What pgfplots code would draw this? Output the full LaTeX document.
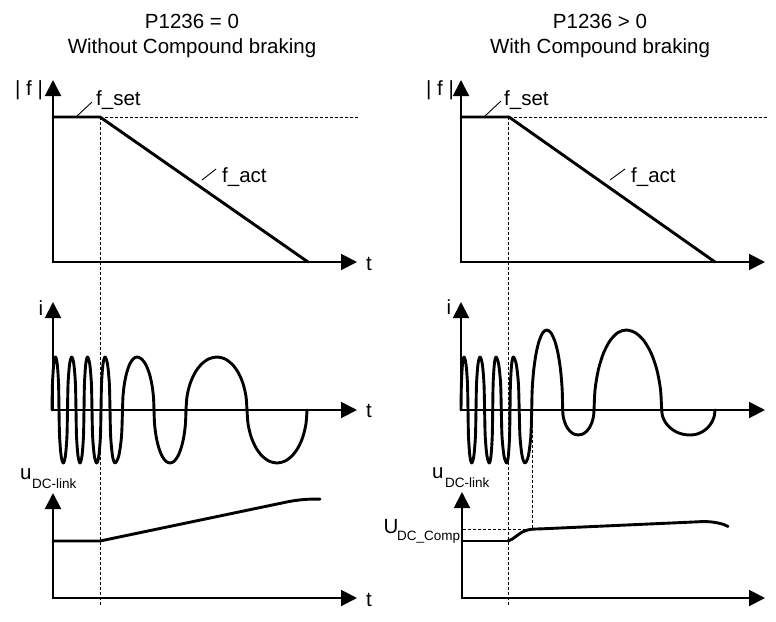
\documentclass[border=0pt]{standalone}
\usepackage{pgfplots}
\pgfplotsset{compat=1.18}
\usepackage{fontspec}
\setmainfont{Liberation Sans}
\usetikzlibrary{arrows.meta}
\newcommand{\bigf}{\fontsize{20.5}{24}\selectfont}
\newcommand{\subf}{\fontsize{13.5}{16}\selectfont}
\begin{document}
\begin{tikzpicture}[
  axisarrow/.style={line width=2pt, {Triangle[length=16pt,width=16pt]}-{Triangle[length=16pt,width=16pt]}},
  curve/.style={line width=2.9pt, line join=round, line cap=round},
  dashln/.style={line width=1pt, dash pattern=on 3pt off 2pt},
  lead/.style={line width=0.9pt},
  lbl/.style={inner sep=0pt, font=\bigf},
  slbl/.style={inner sep=0pt, font=\subf}
]
\begin{axis}[
  width=776pt, height=621pt, scale only axis,
  xmin=0, xmax=776, ymin=0, ymax=621, y dir=reverse,
  hide axis, clip=false
]
\addplot[draw=none] coordinates {(0,0) (776,621)};

% ---------- dashed guide lines ----------
\addplot[dashln] coordinates {(100,117) (358,117)};
\addplot[dashln] coordinates {(100,117) (100,606)};
\addplot[dashln] coordinates {(509,117) (767,117)};
\addplot[dashln] coordinates {(508.5,117) (508.5,606)};
\addplot[dashln] coordinates {(532,410) (532,529) (462,529)};

% ---------- axes ----------
\addplot[axisarrow] coordinates {(53,80) (53,262) (357,262)};
\addplot[axisarrow] coordinates {(461,80) (461,262) (765,262)};
\addplot[axisarrow] coordinates {(53,302) (53,410) (357,410)};
\addplot[axisarrow] coordinates {(461,302) (461,410) (765,410)};
\addplot[axisarrow] coordinates {(53,493) (53,598) (357,598)};
\addplot[axisarrow] coordinates {(462,492) (462,598) (765,598)};

% ---------- frequency ----------
\addplot[curve] coordinates {(53,117) (100,117) (308,262)};
\addplot[curve] coordinates {(461,117) (509,117) (715,262)};

% ---------- current, left ----------
\addplot[curve, smooth] coordinates {
 (52,410) (52.47,383.5) (53.75,364.1) (55.5,357) (57.25,364.1) (58.53,383.5)
 (59,410) (59.58,436.5) (61.15,455.9) (63.3,463) (65.4,455.9) (66.94,436.5)
 (67.5,410) (68.06,383.5) (69.6,364.1) (71.7,357) (73.85,364.1) (75.42,383.5)
 (76,410) (76.54,436.5) (78,455.9) (80,463) (82,455.9) (83.46,436.5)
 (84,410) (84.47,383.5) (85.75,364.1) (87.5,357) (89.75,364.1) (91.4,383.5)
 (92,410) (92.63,436.5) (94.35,455.9) (96.7,463) (98.85,455.9) (100.42,436.5)
 (101,410) (101.54,383.5) (103,364.1) (105,357) (107.5,364.1) (109.33,383.5)
 (110,410) (110.67,436.5) (112.5,455.9) (115,463) (118.75,455.9) (121.5,436.5)
 (122.5,410) (122.99,396.3) (124.44,383.5) (126.75,372.5) (129.75,364.1) (133.24,358.8) (137,357)
   (141.4,358.8) (145.5,364.1) (149.02,372.5) (151.72,383.5) (153.42,396.3)
 (154,410) (154.54,423.7) (156.14,436.5) (158.69,447.5) (162,455.9) (165.86,461.2) (170,463)
   (174.14,461.2) (178,455.9) (181.31,447.5) (183.86,436.5) (185.46,423.7)
 (186,410) (187.05,396.3) (190.15,383.5) (195.08,372.5) (201.5,364.1) (208.97,358.8) (217,357)
   (224.77,358.8) (232,364.1) (238.21,372.5) (242.98,383.5) (245.98,396.3)
 (247,410) (248.02,423.7) (251.02,436.5) (255.79,447.5) (262,455.9) (269.23,461.2) (277,463)
   (284.77,461.2) (292,455.9) (298.21,447.5) (302.98,436.5) (305.98,423.7)
 (307,410)
};

% ---------- current, right ----------
\addplot[curve, smooth] coordinates {
 (461,410) (461.4,383.5) (462.5,364.1) (464,357) (466,364.1) (467.46,383.5)
 (468,410) (468.5,436.5) (469.85,455.9) (471.7,463) (473.85,455.9) (475.42,436.5)
 (476,410) (476.54,383.5) (478,364.1) (480,357) (482.3,364.1) (483.98,383.5)
 (484.6,410) (485.23,436.5) (486.95,455.9) (489.3,463) (491,455.9) (492.24,436.5)
 (492.7,410) (493.14,383.5) (494.35,364.1) (496,357) (498.65,364.1) (500.59,383.5)
 (501.3,410) (502.02,436.5) (504,455.9) (506.7,463) (508.35,455.9) (509.56,436.5)
 (510,410) (510.44,383.5) (511.65,364.1) (513.3,357) (516.25,364.1) (518.41,383.5)
 (519.2,410) (519.98,436.5) (522.1,455.9) (525,463) (528.35,455.9) (530.8,436.5)
 (531.7,410) (532.21,389.3) (533.71,370) (536.1,353.4) (539.2,340.7) (542.82,332.7) (546.7,330)
   (550.84,332.7) (554.7,340.7) (558.01,353.4) (560.56,370) (562.16,389.3)
 (562.7,410) (563.23,416.5) (564.79,422.5) (567.27,427.7) (570.5,431.7) (574.26,434.2) (578.3,435)
   (582.37,434.2) (586.15,431.7) (589.4,427.7) (591.9,422.5) (593.47,416.5)
 (594,410) (595.09,389.3) (598.29,370) (603.38,353.4) (610,340.7) (617.71,332.7) (626,330)
   (635.25,332.7) (643.85,340.7) (651.24,353.4) (656.92,370) (660.49,389.3)
 (661.7,410) (662.66,416.5) (665.49,422.5) (669.99,427.7) (675.85,431.7) (682.67,434.2) (690,435)
   (696.48,434.2) (702.5,431.7) (707.68,427.7) (711.65,422.5) (714.15,416.5)
 (715,410)
};

% ---------- DC-link voltage ----------
\addplot[curve] coordinates {(53,541) (100,541) (280,503.4)};
\addplot[curve, smooth] coordinates {(280,503.4) (292,501.0) (303,499.6) (312,499.1) (320,499.1)};
\addplot[curve] coordinates {(462,541) (507.7,541)};
\addplot[curve, smooth] coordinates {(507.7,541) (512,539.2) (517,535.6) (522,532.2) (527,530.2) (532,529.2) (540,528.9)};
\addplot[curve] coordinates {(540,528.9) (700,521.7)};
\addplot[curve, smooth] coordinates {(700,521.7) (706,521.6) (712,522) (719,523.2) (724,524.6) (728,526.5)};

% ---------- leader lines ----------
\addplot[lead] coordinates {(77,116) (92,102)};
\addplot[lead] coordinates {(485,116) (501,101)};
\addplot[lead] coordinates {(202,180) (216,169)};
\addplot[lead] coordinates {(610,180) (625,169)};

% ---------- text ----------
\node[lbl, anchor=base] at (axis cs:192,28.5) {P1236 = 0};
\node[lbl, anchor=base] at (axis cs:192,53.5) {Without Compound braking};
\node[lbl, anchor=base] at (axis cs:600,28.5) {P1236 > 0};
\node[lbl, anchor=base] at (axis cs:600,53.5) {With Compound braking};

\node[lbl, anchor=base] at (axis cs:29,95) {| f |};
\node[lbl, anchor=base] at (axis cs:440,95) {| f |};
\node[lbl, anchor=base west] at (axis cs:96,105) {f\_set};
\node[lbl, anchor=base west] at (axis cs:504,105) {f\_set};
\node[lbl, anchor=base west] at (axis cs:222,182) {f\_act};
\node[lbl, anchor=base west] at (axis cs:631,182) {f\_act};

\node[lbl, anchor=base west] at (axis cs:366,270) {t};
\node[lbl, anchor=base west] at (axis cs:366,417) {t};
\node[lbl, anchor=base west] at (axis cs:366,606) {t};

\node[lbl, anchor=base] at (axis cs:41,315) {i};
\node[lbl, anchor=base] at (axis cs:449,314) {i};

\node[lbl, anchor=base west] at (axis cs:20,479) {u};
\node[slbl, anchor=base west] at (axis cs:32,488) {DC-link};
\node[lbl, anchor=base west] at (axis cs:432,478) {u};
\node[slbl, anchor=base west] at (axis cs:445,487) {DC-link};

\node[lbl, anchor=base west] at (axis cs:383.5,533) {U};
\node[slbl, anchor=base west] at (axis cs:397,540) {DC\_Comp};
\end{axis}
\end{tikzpicture}
\end{document}
